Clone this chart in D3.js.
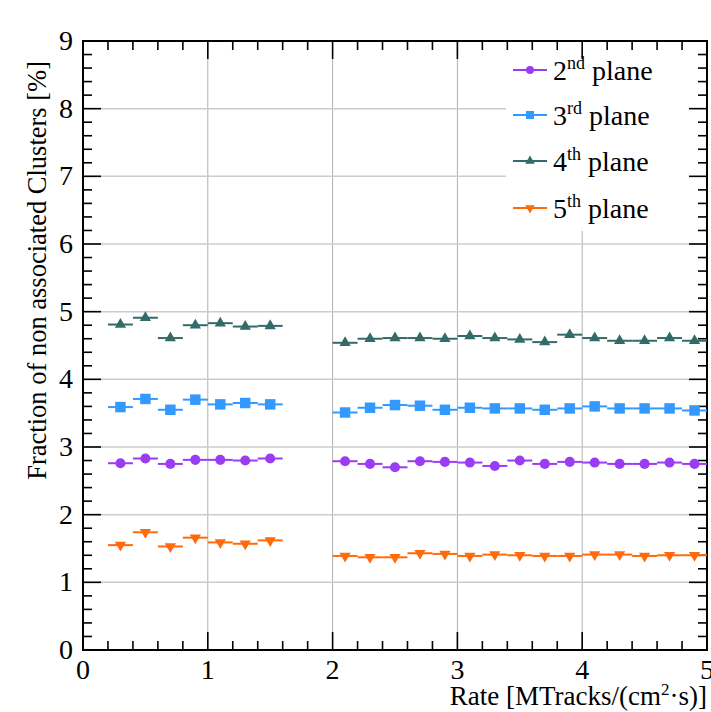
<!DOCTYPE html>
<html>
<head>
<meta charset="utf-8">
<script src="https://cdn.jsdelivr.net/npm/d3@7"></script>
<style>
  html, body { margin: 0; padding: 0; background: #fff; }
  svg { display: block; }
</style>
</head>
<body>
<svg id="chart" width="711" height="712" font-family="'Liberation Serif', 'Times New Roman', Times, 'DejaVu Serif', serif"></svg>
<script>
// Rate bins (bin centres, each bin ±0.1 MTracks/(cm²·s))
const ratesLow  = [0.3, 0.5, 0.7, 0.9, 1.1, 1.3, 1.5];
const ratesHigh = [2.1, 2.3, 2.5, 2.7, 2.9, 3.1, 3.3, 3.5, 3.7, 3.9, 4.1, 4.3, 4.5, 4.7, 4.9];
const rates = ratesLow.concat(ratesHigh);
const binHalfWidth = 0.1;

// Fraction of non associated clusters [%] per plane
const plane2 = [2.76, 2.83, 2.75, 2.81, 2.81, 2.80, 2.83,
                2.79, 2.75, 2.70, 2.79, 2.78, 2.77, 2.72, 2.80, 2.75, 2.78, 2.77, 2.75, 2.75, 2.77, 2.75];
const plane3 = [3.59, 3.71, 3.55, 3.70, 3.63, 3.65, 3.63,
                3.51, 3.58, 3.62, 3.61, 3.55, 3.58, 3.57, 3.57, 3.55, 3.57, 3.60, 3.57, 3.57, 3.57, 3.54];
const plane4 = [4.81, 4.91, 4.61, 4.80, 4.83, 4.78, 4.79,
                4.54, 4.60, 4.61, 4.61, 4.60, 4.64, 4.61, 4.59, 4.55, 4.66, 4.61, 4.57, 4.57, 4.61, 4.57];
const plane5 = [1.55, 1.74, 1.53, 1.66, 1.59, 1.57, 1.62,
                1.39, 1.37, 1.37, 1.43, 1.42, 1.39, 1.41, 1.40, 1.39, 1.39, 1.41, 1.41, 1.39, 1.40, 1.40];

const planeNames = ["2", "3", "4", "5"];
const planeSuffix = ["nd", "rd", "th", "th"];
const planeColors = ["#9b3cf5", "#3399ff", "#336b6b", "#ff6a0a"];
const planeMarkers = ["circle", "square", "triangleUp", "triangleDown"];

const xTicks = [0, 1, 2, 3, 4, 5];
const yTicks = [0, 1, 2, 3, 4, 5, 6, 7, 8, 9];

const series = [plane2, plane3, plane4, plane5].map((vals, i) => ({
  name: planeNames[i], suffix: planeSuffix[i], color: planeColors[i], marker: planeMarkers[i],
  points: rates.map((r, j) => ({ x: r, y: vals[j] }))
}));

const W = 711, H = 712;
const margin = { left: 83, right: 4, top: 41, bottom: 62 };
const x = d3.scaleLinear().domain([0, 5]).range([margin.left, W - margin.right]);
const y = d3.scaleLinear().domain([0, 9]).range([H - margin.bottom, margin.top]);

const svg = d3.select("#chart");

// grid
const grid = svg.append("g");
grid.selectAll("line.gx").data(xTicks.slice(1, -1)).enter().append("line")
  .attr("x1", d => x(d)).attr("x2", d => x(d))
  .attr("y1", y(0)).attr("y2", y(9))
  .attr("stroke", "#b0b0b0").attr("stroke-width", 1);
grid.selectAll("line.gy").data(yTicks.slice(1, -1)).enter().append("line")
  .attr("x1", x(0)).attr("x2", x(5))
  .attr("y1", d => y(d)).attr("y2", d => y(d))
  .attr("stroke", "#cccccc").attr("stroke-width", 1.5);

// legend background (hides grid beneath it)
const legend = svg.append("g");
legend.append("rect")
  .attr("x", 506).attr("y", y(9) + 1).attr("width", x(5) - 507).attr("height", 189)
  .attr("fill", "#fff");

// ticks on all four sides
const majorLen = 18, minorLen = 9;
const xMinor = d3.range(0, 5.0001, 0.2);
const yMinor = d3.range(0, 9.0001, 0.2);
const isMajor = v => Math.abs(v - Math.round(v)) < 1e-6;
const ticks = svg.append("g").attr("stroke", "#000").attr("stroke-width", 1.6);
xMinor.forEach(v => {
  const L = isMajor(v) ? majorLen : minorLen;
  ticks.append("line").attr("x1", x(v)).attr("x2", x(v)).attr("y1", y(0)).attr("y2", y(0) - L);
  ticks.append("line").attr("x1", x(v)).attr("x2", x(v)).attr("y1", y(9)).attr("y2", y(9) + L);
});
yMinor.forEach(v => {
  const L = isMajor(v) ? majorLen : minorLen;
  ticks.append("line").attr("x1", x(0)).attr("x2", x(0) + L).attr("y1", y(v)).attr("y2", y(v));
  ticks.append("line").attr("x1", x(5)).attr("x2", x(5) - L).attr("y1", y(v)).attr("y2", y(v));
});

// frame
svg.append("rect")
  .attr("x", x(0)).attr("y", y(9)).attr("width", x(5) - x(0)).attr("height", y(0) - y(9))
  .attr("fill", "none").attr("stroke", "#000").attr("stroke-width", 2);

// tick labels
svg.append("g").selectAll("text").data(xTicks).enter().append("text")
  .attr("x", d => x(d)).attr("y", y(0) + 29)
  .attr("text-anchor", "middle").attr("font-size", 28).text(d => d);
svg.append("g").selectAll("text").data(yTicks).enter().append("text")
  .attr("x", x(0) - 10).attr("y", d => y(d) + 9)
  .attr("text-anchor", "end").attr("font-size", 28).text(d => d);

// axis titles
const xt = svg.append("text").attr("x", x(5)).attr("y", 705)
  .attr("text-anchor", "end").attr("font-size", 27);
xt.append("tspan").text("Rate [MTracks/(cm");
xt.append("tspan").attr("font-size", 17).attr("dy", -10).text("2");
xt.append("tspan").attr("dy", 10).text("·s)]");

svg.append("text")
  .attr("transform", "translate(46,61) rotate(-90)")
  .attr("text-anchor", "end").attr("font-size", 26.5)
  .text("Fraction of non associated Clusters [%]");

// marker shapes
function markerPath(kind) {
  if (kind === "circle") return d3.symbol(d3.symbolCircle, 80)();
  if (kind === "square") return d3.symbol(d3.symbolSquare, 110)();
  return d3.symbol(d3.symbolTriangle, 55)();
}
function markerTransform(kind, px, py) {
  return kind === "triangleDown" ? `translate(${px},${py}) rotate(180)` : `translate(${px},${py})`;
}

// data: horizontal bin-width bars with markers
series.forEach(s => {
  const g = svg.append("g");
  g.selectAll("line").data(s.points).enter().append("line")
    .attr("x1", d => x(d.x - binHalfWidth)).attr("x2", d => x(d.x + binHalfWidth))
    .attr("y1", d => y(d.y)).attr("y2", d => y(d.y))
    .attr("stroke", s.color).attr("stroke-width", 2);
  g.selectAll("path").data(s.points).enter().append("path")
    .attr("d", markerPath(s.marker))
    .attr("transform", d => markerTransform(s.marker, x(d.x), y(d.y)))
    .attr("fill", s.color);
});

// legend entries
const legendY = [70, 115, 161, 208];
series.forEach((s, i) => {
  const ly = legendY[i];
  legend.append("line").attr("x1", 513).attr("x2", 547).attr("y1", ly).attr("y2", ly)
    .attr("stroke", s.color).attr("stroke-width", 2);
  const ms = s.marker === "circle" ? d3.symbol(d3.symbolCircle, 50)()
           : s.marker === "square" ? d3.symbol(d3.symbolSquare, 64)()
           : d3.symbol(d3.symbolTriangle, 40)();
  legend.append("path").attr("d", ms)
    .attr("transform", markerTransform(s.marker, 530, ly)).attr("fill", s.color);
  const t = legend.append("text").attr("x", 553).attr("y", ly + 10).attr("font-size", 28);
  t.append("tspan").text(s.name);
  t.append("tspan").attr("font-size", 18).attr("dy", -11).text(s.suffix);
  t.append("tspan").attr("dy", 11).text(" plane");
});
</script>
</body>
</html>
